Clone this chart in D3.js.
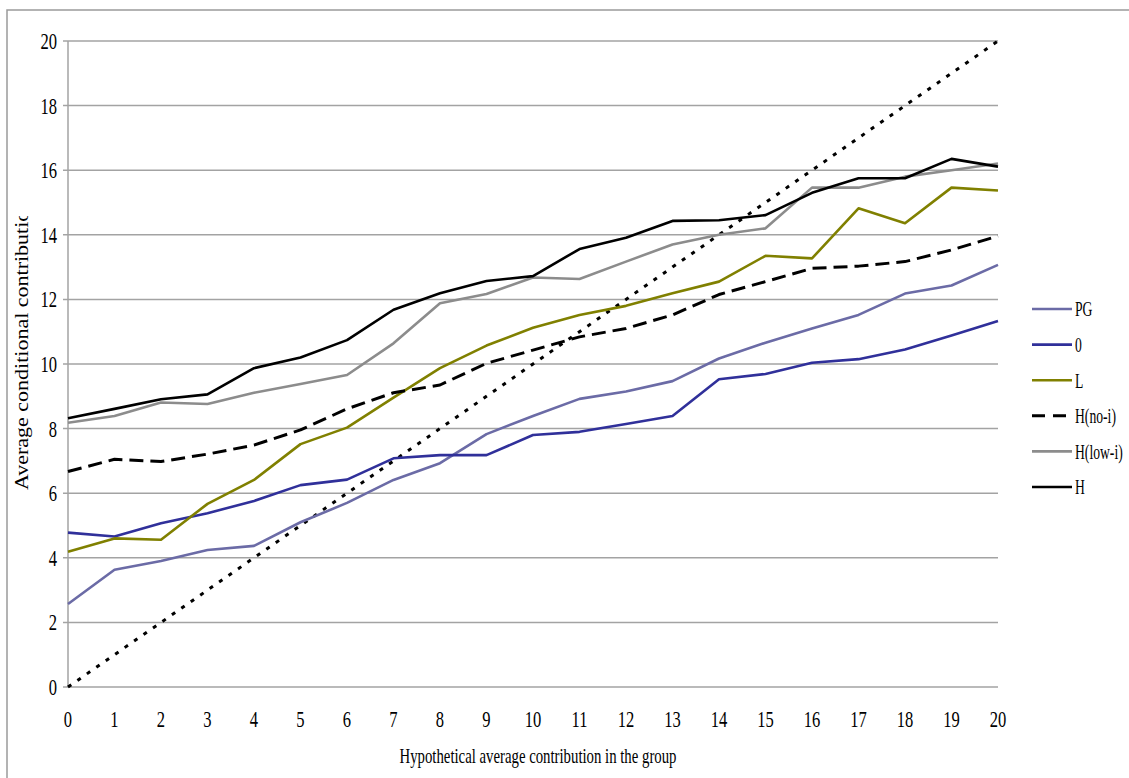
<!DOCTYPE html>
<html>
<head>
<meta charset="utf-8">
<script src="https://cdn.jsdelivr.net/npm/d3@7"></script>
<style>
  html, body { margin: 0; padding: 0; background: #fff; }
  svg { display: block; }
  text { font-family: "Liberation Serif", "Times New Roman", serif; fill: #000; }
</style>
</head>
<body>
<svg id="chart" width="1129" height="778"></svg>
<script>
// ---- data ----
const xValues = [0,1,2,3,4,5,6,7,8,9,10,11,12,13,14,15,16,17,18,19,20];
const yTicks = [0,2,4,6,8,10,12,14,16,18,20];
const seriesNames = ["PG", "0", "L", "H(no-i)", "H(low-i)", "H"];
const pgValues     = [2.57,3.63,3.90,4.24,4.37,5.10,5.70,6.41,6.93,7.83,8.39,8.92,9.15,9.47,10.17,10.66,11.10,11.52,12.18,12.43,13.07];
const zeroValues   = [4.78,4.66,5.07,5.38,5.76,6.25,6.42,7.08,7.18,7.18,7.80,7.90,8.14,8.39,9.53,9.69,10.04,10.15,10.45,10.88,11.33];
const lValues      = [4.19,4.60,4.56,5.67,6.41,7.52,8.03,8.96,9.87,10.57,11.12,11.52,11.80,12.19,12.55,13.35,13.27,14.82,14.36,15.46,15.37];
const hNoIValues   = [6.67,7.05,6.98,7.21,7.49,7.96,8.61,9.11,9.35,10.02,10.43,10.84,11.10,11.52,12.15,12.55,12.96,13.03,13.17,13.53,13.96];
const hLowIValues  = [8.18,8.39,8.81,8.76,9.11,9.38,9.66,10.64,11.88,12.17,12.68,12.63,13.17,13.70,14.00,14.20,15.46,15.46,15.80,16.00,16.21];
const hValues      = [8.32,8.61,8.91,9.06,9.87,10.20,10.74,11.68,12.19,12.57,12.72,13.56,13.91,14.43,14.45,14.61,15.30,15.75,15.75,16.35,16.11];
const diagonalValues = [0,1,2,3,4,5,6,7,8,9,10,11,12,13,14,15,16,17,18,19,20];
const xTitle = "Hypothetical average contribution in the group";
const yTitle = "Average conditional contribution";

// ---- styles ----
const styles = {
  "PG":       { color: "#6b6ba6", dash: null },
  "0":        { color: "#30309a", dash: null },
  "L":        { color: "#808000", dash: null },
  "H(no-i)":  { color: "#000000", dash: "14,7" },
  "H(low-i)": { color: "#8c8c8c", dash: null },
  "H":        { color: "#000000", dash: null }
};
const seriesData = {
  "PG": pgValues, "0": zeroValues, "L": lValues,
  "H(no-i)": hNoIValues, "H(low-i)": hLowIValues, "H": hValues
};

const svg = d3.select("#chart");
const x = d3.scaleLinear().domain([0, 20]).range([68, 998]);
const y = d3.scaleLinear().domain([0, 20]).range([687, 41]);

// outer frame
svg.append("rect").attr("x", 7).attr("y", 10).attr("width", 1140).attr("height", 790)
  .attr("fill", "none").attr("stroke", "#9a9a9a").attr("stroke-width", 1.5);

// gridlines (with small left tick)
svg.append("g").selectAll("line").data(yTicks).join("line")
  .attr("x1", x(0) - 5).attr("x2", x(20))
  .attr("y1", d => y(d)).attr("y2", d => y(d))
  .attr("stroke", "#a3a3a3").attr("stroke-width", 1.5);

// y axis line
svg.append("line").attr("x1", x(0)).attr("x2", x(0)).attr("y1", y(0)).attr("y2", y(20))
  .attr("stroke", "#a3a3a3").attr("stroke-width", 1.5);

// y tick labels (condensed serif)
svg.append("g").selectAll("g").data(yTicks).join("g")
  .attr("transform", d => `translate(57,${y(d)}) scale(0.72,1)`)
  .append("text").attr("text-anchor", "end").attr("dy", "0.35em")
  .style("font-size", "23px").text(d => d);

// x tick labels
svg.append("g").selectAll("g").data(xValues).join("g")
  .attr("transform", d => `translate(${x(d)},727) scale(0.72,1)`)
  .append("text").attr("text-anchor", "middle")
  .style("font-size", "23px").text(d => d);

// x title
svg.append("text").attr("x", 538).attr("y", 763).attr("text-anchor", "middle")
  .attr("textLength", 277).attr("lengthAdjust", "spacingAndGlyphs")
  .style("font-size", "21px").text(xTitle);

// y title, clipped like the reference
svg.append("clipPath").attr("id", "ytclip").append("rect")
  .attr("x", 0).attr("y", 216).attr("width", 60).attr("height", 400);
const ytg = svg.append("g").attr("clip-path", "url(#ytclip)");
const ytInner = ytg.append("g");
const ytText = ytInner.append("text").style("font-size", "19px").text(yTitle);
// scale along text so visible part (up to middle of "o" in contribution) spans ~274px
let visLen;
try {
  const n = yTitle.length; // last two chars "on"
  const w30 = ytText.node().getSubStringLength(0, n - 2);
  const wo = ytText.node().getSubStringLength(n - 2, 1);
  visLen = w30 + wo * 0.5;
} catch (e) { visLen = 260; }
const sAlong = 274 / visLen;
ytInner.attr("transform", `translate(28,490) rotate(-90) scale(${sAlong},1)`);

// diagonal dotted reference
const line = d3.line().x((d, i) => x(xValues[i])).y(d => y(d));
svg.append("path").datum(diagonalValues).attr("d", line)
  .attr("fill", "none").attr("stroke", "#000").attr("stroke-width", 3)
  .attr("stroke-dasharray", "4,7.5");

// series lines (draw order: back to front)
const drawOrder = ["PG", "0", "L", "H(no-i)", "H(low-i)", "H"];
drawOrder.forEach(name => {
  svg.append("path").datum(seriesData[name]).attr("d", line)
    .attr("fill", "none").attr("stroke", styles[name].color)
    .attr("stroke-width", name === "H(no-i)" ? 3 : 2.6)
    .attr("stroke-linejoin", "round")
    .attr("stroke-dasharray", styles[name].dash);
});

// legend
const legend = svg.append("g");
seriesNames.forEach((name, i) => {
  const cy = 309 + i * 35.6;
  legend.append("line").attr("x1", 1032).attr("x2", 1072).attr("y1", cy).attr("y2", cy)
    .attr("stroke", styles[name].color)
    .attr("stroke-width", name === "H(no-i)" ? 3 : 2.6)
    .attr("stroke-dasharray", name === "H(no-i)" ? "13,8" : null);
  legend.append("g").attr("transform", `translate(1075,${cy}) scale(0.65,1)`)
    .append("text").attr("dy", "0.35em").style("font-size", "21px").text(name);
});
</script>
</body>
</html>
